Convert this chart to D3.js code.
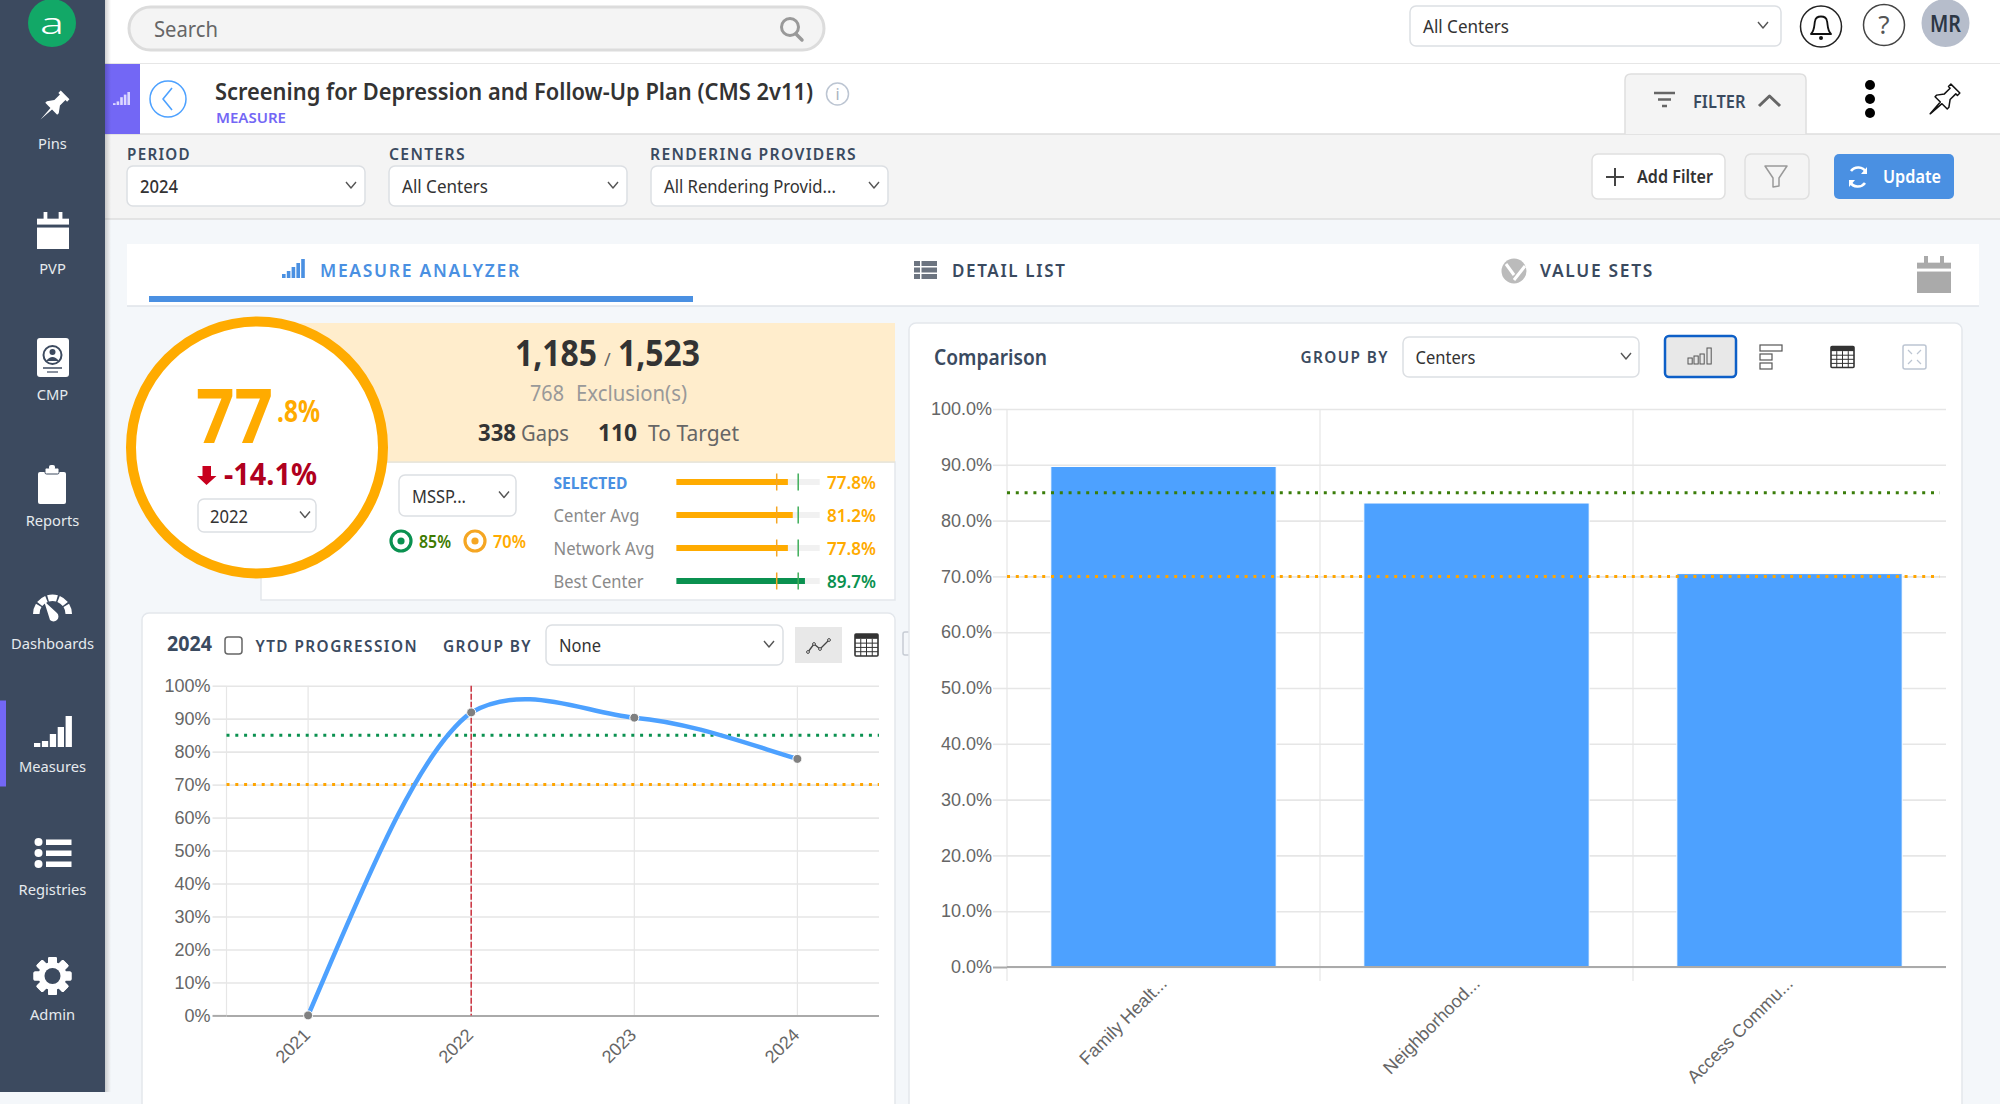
<!DOCTYPE html>
<html><head><meta charset="utf-8">
<script src="https://cdn.jsdelivr.net/npm/d3@7/dist/d3.min.js"></script>
<style>
html,body{margin:0;padding:0;background:#f4f7fa;overflow:hidden}
svg{display:block}
text{font-family:"Noto Sans",sans-serif}
.chart text{font-family:"Liberation Sans",Arial,sans-serif}
</style></head><body>
<svg id="app" width="2000" height="1104" viewBox="0 0 2000 1104"></svg>
<script>
// ---------- data ----------
const trendYears = ["2021","2022","2023","2024"];
const trendRates = [0,91.9,90.3,77.8];
const trendTicks = [0,10,20,30,40,50,60,70,80,90,100];
const selectedYear = "2022";
const centerNames = ["Family Healt...","Neighborhood...","Access Commu..."];
const centerRates = [89.7,83.15,70.5];
const comparisonTicks = [0,10,20,30,40,50,60,70,80,90,100];
const targetHigh = 85;
const targetLow = 70;
const benchLabels = ["SELECTED","Center Avg","Network Avg","Best Center"];
const benchValues = [77.8,81.2,77.8,89.7];
const navLabels = ["Pins","PVP","CMP","Reports","Dashboards","Measures","Registries","Admin"];

const C = {blue:"#4da1ff",orange:"#ffab00",green:"#0a9150",dark:"#3a4a5f",side:"#3c4a5f",purple:"#7367f5",grid:"#e6e6e6",axis:"#666"};
const svg = d3.select("#app");

function txt(g,x,y,s,o={}){
  const t=g.append("text").attr("x",x).attr("y",y).text(s)
    .attr("font-size",o.size||16).attr("font-weight",o.weight||400).attr("fill",o.fill||"#333")
    .attr("text-anchor",o.anchor||"start");
  if(o.ls)t.attr("letter-spacing",o.ls);
  if(o.w)t.attr("textLength",o.w).attr("lengthAdjust","spacingAndGlyphs");
  return t;
}
function box(g,x,y,w,h,o={}){
  return g.append("rect").attr("x",x).attr("y",y).attr("width",w).attr("height",h)
    .attr("rx",o.r||0).attr("fill",o.fill||"#fff").attr("stroke",o.stroke||"none").attr("stroke-width",o.sw||1);
}
function hline(g,x1,x2,y,c,w){g.append("line").attr("x1",x1).attr("x2",x2).attr("y1",y).attr("y2",y).attr("stroke",c||"#ddd").attr("stroke-width",w||1.5);}
function path(g,d,o={}){return g.append("path").attr("d",d).attr("fill",o.fill||"none").attr("stroke",o.stroke||"none").attr("stroke-width",o.sw||1).attr("stroke-linecap",o.cap||"butt").attr("stroke-linejoin","round");}
function chev(g,cx,cy,w,h,c,sw){path(g,`M${cx-w/2},${cy-h/2}L${cx},${cy+h/2}L${cx+w/2},${cy-h/2}`,{stroke:c||"#555",sw:sw||1.4});}
function select(g,x,y,w,h,label,o={}){
  box(g,x,y,w,h,{fill:"#fff",stroke:"#dcdfe3",sw:1.5,r:6});
  txt(g,x+(o.pad||13),y+h/2+7,label,{size:o.size||18,weight:o.weight||400,fill:"#333",w:o.w});
  chev(g,x+w-(o.chev||14),y+h/2-1,10,6);
}
const PIN="M-5.5,-14H5.5V-11H3.5V-4L7.5,1.5V3.5H1L0,17L-1,3.5H-7.5V1.5L-3.5,-4V-11H-5.5Z";

// ---------- page frame ----------
box(svg,0,0,2000,1104,{fill:"#f4f7fa"});
box(svg,105,0,1895,64,{fill:"#fff"});
hline(svg,105,2000,64,"#dedede");
box(svg,105,64,1895,70,{fill:"#fff"});
box(svg,105,134,1895,85,{fill:"#f4f4f4"});
hline(svg,105,2000,134,"#dedede");
hline(svg,105,2000,219,"#dedede");

// ---------- top bar ----------
box(svg,129,7,695,43,{fill:"#f4f4f4",stroke:"#dcdcdc",sw:3,r:21.5});
txt(svg,154,37,"Search",{size:21,fill:"#666",w:64});
svg.append("circle").attr("cx",790).attr("cy",27).attr("r",8.5).attr("fill","none").attr("stroke","#999").attr("stroke-width",3);
path(svg,"M796,34L802,40",{stroke:"#999",sw:3.5,cap:"round"});
select(svg,1410,6,371,40,"All Centers",{chev:18,w:86});
svg.append("circle").attr("cx",1821).attr("cy",26.5).attr("r",20.5).attr("fill","#fff").attr("stroke","#222").attr("stroke-width",1.5);
path(svg,"M1811,34C1815,30 1814,25 1815,21C1816,15 1826,15 1827,21C1828,25 1827,30 1831,34Z",{stroke:"#111",sw:1.8});
svg.append("circle").attr("cx",1821).attr("cy",38).attr("r",2).attr("fill","#111");
svg.append("circle").attr("cx",1884).attr("cy",25).attr("r",20.5).attr("fill","#fff").attr("stroke","#444").attr("stroke-width",1.5);
txt(svg,1884,34,"?",{size:26,fill:"#555",anchor:"middle"});
svg.append("circle").attr("cx",1945.5).attr("cy",23).attr("r",24).attr("fill","#b6bdcb");
txt(svg,1945.5,32,"MR",{size:23,weight:600,fill:"#2c3745",anchor:"middle",w:31});

// ---------- title row ----------
box(svg,105,64,35,70,{fill:C.purple});
[0,1,2,3,4].forEach(i=>box(svg,113+i*3.6,105-(i+1)*(i<2?1.8:2.6),2.6,(i+1)*(i<2?1.8:2.6),{fill:"#dcd8ff"}));
svg.append("circle").attr("cx",168).attr("cy",99).attr("r",18).attr("fill","#fff").attr("stroke","#4da1ff").attr("stroke-width",1.5);
path(svg,"M172,88L163,99L172,110",{stroke:"#4da1ff",sw:1.6});
txt(svg,215,100,"Screening for Depression and Follow-Up Plan (CMS 2v11)",{size:24,weight:600,fill:"#333",w:598});
txt(svg,216,123,"MEASURE",{size:15,weight:600,fill:C.purple,w:70});
svg.append("circle").attr("cx",837.5).attr("cy",94).attr("r",11).attr("fill","#fff").attr("stroke","#bcc5d2").attr("stroke-width",1.5);
txt(svg,837.5,100,"i",{size:16,fill:"#aab3c0",anchor:"middle"});
// filter tab
path(svg,"M1625,134V80Q1625,74 1631,74H1800Q1806,74 1806,80V134",{fill:"#f4f4f4",stroke:"#dedede",sw:1.5});
hline(svg,1654,1675,93,"#666",2.5);hline(svg,1658,1671,99.5,"#666",2.5);hline(svg,1662,1667,106,"#666",2.5);
txt(svg,1693,108,"FILTER",{size:18,weight:600,fill:C.dark,w:52.5});
path(svg,"M1759,106L1769.5,96L1780,106",{stroke:"#666",sw:3});
[85,99,113].forEach(y=>svg.append("circle").attr("cx",1870).attr("cy",y).attr("r",5).attr("fill","#000"));
path(svg,PIN,{fill:"#fff",stroke:"#111",sw:1.3}).attr("transform","translate(1944,100) rotate(45) scale(1.15)");

// ---------- filter row ----------
txt(svg,127,160,"PERIOD",{size:16.5,weight:600,fill:C.dark,ls:1.4,w:64});
txt(svg,389,160,"CENTERS",{size:16.5,weight:600,fill:C.dark,ls:1.4,w:77});
txt(svg,650,160,"RENDERING PROVIDERS",{size:16.5,weight:600,fill:C.dark,ls:1.4,w:207});
select(svg,127,166,238,40,"2024",{weight:500,w:38});
select(svg,389,166,238,40,"All Centers",{w:86});
select(svg,651,166,237,40,"All Rendering Provid...",{w:172});
box(svg,1592,154,133,45,{fill:"#fff",stroke:"#dfdfdf",sw:1.5,r:6});
path(svg,"M1615,168V186M1606,177H1624",{stroke:"#444",sw:2});
txt(svg,1637,183,"Add Filter",{size:18,weight:600,fill:"#333",w:76});
box(svg,1745,154,64,45,{fill:"#f4f4f4",stroke:"#dfdfdf",sw:1.5,r:6});
path(svg,"M1765,166H1787L1779,178V186L1773,187V178Z",{stroke:"#999",sw:1.5});
box(svg,1834,154,120,45,{fill:"#4a90e2",r:5});
path(svg,"M1851,171A9,9 0 0 1 1866,172M1865,183A9,9 0 0 1 1850,182",{stroke:"#fff",sw:2.6});
path(svg,"M1867,167V174H1861ZM1849,187V180H1855Z",{fill:"#fff"});
txt(svg,1883,183,"Update",{size:18,weight:600,fill:"#fff",w:58});

// ---------- tabs ----------
box(svg,127,244,1852,62,{fill:"#fff"});
hline(svg,127,1979,306,"#dfe3e8");
box(svg,149,296,544,6,{fill:"#4a90e2"});
[0,1,2,3,4].forEach(i=>box(svg,282+i*4.8,278-[4,7,11,15,19][i],3.6,[4,7,11,15,19][i],{fill:"#4a90e2"}));
txt(svg,320,277,"MEASURE ANALYZER",{size:18.5,weight:600,fill:"#4a90e2",ls:1.8,w:201});
[0,1,2].forEach(i=>{box(svg,914,261+i*6.5,6,5,{fill:"#6c7480"});box(svg,921.5,261+i*6.5,15.5,5,{fill:"#6c7480"});});
txt(svg,952,277,"DETAIL LIST",{size:18.5,weight:600,fill:C.dark,ls:1.8,w:114.5});
svg.append("circle").attr("cx",1514).attr("cy",271).attr("r",12.5).attr("fill","#bbb");
path(svg,"M1506,264L1514,275M1514,280L1525,266",{stroke:"#fff",sw:3});
txt(svg,1540,277,"VALUE SETS",{size:18.5,weight:600,fill:C.dark,ls:1.8,w:114});
function calendar(g,x,y,w,h,c){
  const u=w/34;
  box(g,x,y+h*.42,w,h*.58,{fill:c});
  box(g,x,y+h*.18,w,h*.16,{fill:c});
  box(g,x+7*u,y,4*u,h*.2,{fill:c});box(g,x+23*u,y,4*u,h*.2,{fill:c});
}
calendar(svg,1917,256,34,37,"#aaa");

// ---------- summary panel ----------
const sum=svg.append("g");
box(sum,261,462,634,138,{fill:"#fff",stroke:"#e3e7ec",sw:1.5});
box(sum,300,323,595,139,{fill:"#ffedcc"});
hline(sum,261,895,462,"#e9e4d8");
sum.append("circle").attr("cx",257).attr("cy",447.5).attr("r",126).attr("fill","#fff").attr("stroke",C.orange).attr("stroke-width",10);
txt(sum,196,443,"77",{size:76,weight:700,fill:C.orange,w:77});
txt(sum,277,422,".8%",{size:30,weight:700,fill:C.orange,w:43});
path(sum,"M202.5,466H211V476H216.5L206.5,485L197,476H202.5Z",{fill:"#c8001e"});
txt(sum,224,485,"-14.1%",{size:30,weight:700,fill:"#b0001e",w:93});
select(sum,198,499,118,33,"2022",{pad:12,chev:11,w:38});
txt(sum,515,366,"1,185",{size:35,weight:700,fill:"#333",w:82});
txt(sum,604,366,"/",{size:18,fill:"#666"});
txt(sum,618,366,"1,523",{size:35,weight:700,fill:"#333",w:82});
txt(sum,530,401,"768",{size:22,fill:"#999",w:34});
txt(sum,576,401,"Exclusion(s)",{size:22,fill:"#999",w:111});
txt(sum,478,441,"338",{size:24,weight:700,fill:"#333",w:38});
txt(sum,521,441,"Gaps",{size:22,fill:"#666",w:48});
txt(sum,598,441,"110",{size:24,weight:700,fill:"#333",w:39});
txt(sum,648,441,"To Target",{size:22,fill:"#666",w:91});
select(sum,399,475,117,41,"MSSP...",{pad:13,chev:12,w:54});
function target(g,cx,cy,c){
  g.append("circle").attr("cx",cx).attr("cy",cy).attr("r",10).attr("fill","#fff").attr("stroke",c).attr("stroke-width",3.2);
  g.append("circle").attr("cx",cx).attr("cy",cy).attr("r",3.6).attr("fill",c);
}
target(sum,401,541,C.green);
txt(sum,419,548,"85%",{size:18,weight:600,fill:"#3d7a00",w:32});
target(sum,475,541,"#f5a623");
txt(sum,493,548,"70%",{size:18,weight:600,fill:C.orange,w:33});

// bullet rows
const bulletX=d3.scaleLinear().domain([0,100]).range([676.4,819.7]);
const rowY=d3.scalePoint().domain(benchLabels).range([482,581]);
const colorOf=v=>v>=targetHigh?"#0a9150":C.orange;
const labelFit=[74,86,101,90];
const rows=sum.selectAll("g.row").data(benchLabels.map((l,i)=>({l,v:benchValues[i],i}))).join("g").attr("class","row");
rows.append("text").attr("x",553.5).attr("y",d=>rowY(d.l)+7).text(d=>d.l)
  .attr("textLength",d=>labelFit[d.i]).attr("lengthAdjust","spacingAndGlyphs")
  .attr("font-size",d=>d.i===0?16:18).attr("font-weight",d=>d.i===0?700:400).attr("fill",d=>d.i===0?"#4a90e2":"#8a8a8a");
rows.append("rect").attr("x",bulletX(0)).attr("y",d=>rowY(d.l)-3).attr("width",bulletX(100)-bulletX(0)).attr("height",6).attr("fill","#f1f1f1");
rows.append("rect").attr("x",bulletX(0)).attr("y",d=>rowY(d.l)-3).attr("width",d=>bulletX(d.v)-bulletX(0)).attr("height",6).attr("fill",d=>colorOf(d.v));
rows.append("line").attr("x1",bulletX(targetLow)).attr("x2",bulletX(targetLow)).attr("y1",d=>rowY(d.l)-8.5).attr("y2",d=>rowY(d.l)+8.5).attr("stroke","#f5a623").attr("stroke-width",1.5);
rows.append("line").attr("x1",bulletX(targetHigh)).attr("x2",bulletX(targetHigh)).attr("y1",d=>rowY(d.l)-8.5).attr("y2",d=>rowY(d.l)+8.5).attr("stroke","#3fae5a").attr("stroke-width",1.5);
rows.append("text").attr("x",876).attr("y",d=>rowY(d.l)+7).attr("text-anchor","end").text(d=>d.v.toFixed(1)+"%")
  .attr("textLength",49).attr("lengthAdjust","spacingAndGlyphs")
  .attr("font-size",18).attr("font-weight",600).attr("fill",d=>colorOf(d.v));

// ---------- shared icon helpers ----------
function tableIcon(g,x,y,w,h){
  box(g,x,y,w,h,{fill:"#fff",stroke:"#333",sw:1.6,r:1});
  box(g,x,y,w,h*.22,{fill:"#333"});
  for(let i=1;i<4;i++)g.append("line").attr("x1",x+w*i/4).attr("x2",x+w*i/4).attr("y1",y+h*.22).attr("y2",y+h).attr("stroke","#333");
  for(let i=1;i<4;i++)g.append("line").attr("x1",x).attr("x2",x+w).attr("y1",y+h*.22+h*.78*i/4).attr("y2",y+h*.22+h*.78*i/4).attr("stroke","#333");
}

// ---------- trend panel ----------
const tp=svg.append("g");
box(tp,142,613,753,520,{fill:"#fff",stroke:"#e3e7ec",sw:1.5,r:7});
txt(tp,167,651,trendYears[3],{size:21,weight:700,fill:C.dark,w:45});
box(tp,225,637,17,17,{fill:"#fff",stroke:"#666",sw:1.5,r:3});
txt(tp,255.5,652,"YTD PROGRESSION",{size:16,weight:600,fill:C.dark,ls:1.5,w:162.5});
txt(tp,443,652,"GROUP BY",{size:16,weight:600,fill:C.dark,ls:1.5,w:89});
select(tp,546,625,237,40,"None",{pad:13,chev:14,w:42});
box(tp,795,627,47,36,{fill:"#e8e8e8"});
path(tp,"M808,652L814,644L820,649L829,640",{stroke:"#444",sw:1.3});
[[808,652],[814,644],[820,649],[829,640]].forEach(p=>tp.append("circle").attr("cx",p[0]).attr("cy",p[1]).attr("r",1.4).attr("fill","#fff").attr("stroke","#444"));
tableIcon(tp,855,634,23,22);
box(tp,903,632,8,23,{fill:"#f4f7fa",stroke:"#c6ccd4",sw:1.5,r:2});

const chartL=svg.append("g").attr("class","chart");
const xT=d3.scalePoint().domain(trendYears).range([226.5+81.6,879-81.6]);
const yT=d3.scaleLinear().domain([0,100]).range([1015.4,685.7]);
const pctT=d=>d+"%";
// vertical grid
chartL.append("line").attr("x1",226.5).attr("x2",226.5).attr("y1",yT(100)).attr("y2",yT(0)).attr("stroke",C.grid).attr("stroke-width",1.2);
chartL.selectAll("line.vg").data(trendYears).join("line").attr("class","vg")
  .attr("x1",d=>xT(d)).attr("x2",d=>xT(d)).attr("y1",yT(100)).attr("y2",yT(0)).attr("stroke",C.grid).attr("stroke-width",1.2);
// horizontal grid + tick labels
const axisT=d3.axisLeft(yT).tickValues(trendTicks).tickFormat(pctT).tickSize(14).tickPadding(2);
const gyT=chartL.append("g").attr("transform","translate(226.5,0)").call(axisT);
gyT.select(".domain").remove();
gyT.selectAll("line").attr("stroke",C.grid).attr("stroke-width",1.6);
gyT.selectAll("text").attr("font-size",18).attr("fill",C.axis);
const gridT=d3.axisLeft(yT).tickValues(trendTicks).tickFormat("").tickSize(-(879-226.5));
const ggT=chartL.append("g").attr("transform","translate(226.5,0)").call(gridT);
ggT.select(".domain").remove();
ggT.selectAll("line").attr("stroke",d=>d===0?"#aaa":C.grid).attr("stroke-width",d=>d===0?2:1.6);
gyT.selectAll("line").filter(d=>d===0).attr("stroke","#aaa").attr("stroke-width",2);
// x labels
const gxT=chartL.append("g").attr("transform",`translate(0,${yT(0)})`).call(d3.axisBottom(xT).tickSize(0));
gxT.select(".domain").remove();
gxT.selectAll("text").attr("font-size",18).attr("fill",C.axis).attr("text-anchor","end")
  .attr("transform","translate(-5,13) rotate(-45)").attr("y",0).attr("x",0).attr("dy",".6em");
// targets
function dotted(g,x1,x2,y,c){g.append("line").attr("x1",x1).attr("x2",x2).attr("y1",y).attr("y2",y).attr("stroke",c).attr("stroke-width",3).attr("stroke-dasharray","3 5.8");}
dotted(chartL,226.5,879,yT(targetHigh),C.green);
dotted(chartL,226.5,879,yT(targetLow),"#ffa500");
// selected year marker
chartL.append("line").attr("x1",xT(selectedYear)).attr("x2",xT(selectedYear)).attr("y1",yT(100)).attr("y2",yT(0)).attr("stroke","#cc3340").attr("stroke-width",1.5).attr("stroke-dasharray","6 2");
// spline: custom curve, tangents derived from neighbouring data points
function softSpline(ctx){
  let pts=[];
  return {
    lineStart(){pts=[];},
    point(x,y){pts.push([x,y]);},
    lineEnd(){
      const n=pts.length;
      const slope=i=>{
        if(i===0)return 1.25*(pts[1][1]-pts[0][1])/(pts[1][0]-pts[0][0]);
        if(i===n-1)return 1.2*(pts[n-1][1]-pts[n-2][1])/(pts[n-1][0]-pts[n-2][0]);
        return (pts[i+1][1]-pts[i-1][1])/(pts[i+1][0]-pts[i-1][0]);
      };
      ctx.moveTo(pts[0][0],pts[0][1]);
      for(let i=0;i<n-1;i++){
        const h=pts[i+1][0]-pts[i][0];
        const a=i===0?1:0.6, b=i===n-2?1:0.8;
        ctx.bezierCurveTo(pts[i][0]+h/3,pts[i][1]+slope(i)*a*h/3,pts[i+1][0]-h/3,pts[i+1][1]-slope(i+1)*b*h/3,pts[i+1][0],pts[i+1][1]);
      }
    }
  };
}
const lineGen=d3.line().x(d=>xT(d.y)).y(d=>yT(d.v)).curve(softSpline);
const trendData=trendYears.map((y,i)=>({y,v:trendRates[i]}));
chartL.append("path").datum(trendData).attr("d",lineGen).attr("fill","none").attr("stroke",C.blue).attr("stroke-width",4.5).attr("stroke-linecap","round");
chartL.selectAll("circle.pt").data(trendData).join("circle").attr("class","pt")
  .attr("cx",d=>xT(d.y)).attr("cy",d=>yT(d.v)).attr("r",4.5).attr("fill","#808080").attr("stroke","#fff").attr("stroke-width",1);

// ---------- comparison panel ----------
const cp=svg.append("g");
box(cp,909,323,1053,810,{fill:"#fff",stroke:"#e3e7ec",sw:1.5,r:7});
txt(cp,934,365,"Comparison",{size:22,weight:600,fill:C.dark,w:113});
txt(cp,1300.5,363,"GROUP BY",{size:16,weight:600,fill:C.dark,ls:1.5,w:88.5});
select(cp,1403,337,236,40,"Centers",{pad:12.5,chev:13,w:60});
box(cp,1665,336,71,41,{fill:"#e8e8e8",stroke:"#0d5fc7",sw:2.5,r:4});
[[1688,6],[1694,8],[1700,10],[1707,16]].forEach(p=>box(cp,p[0],364-p[1],4.2,p[1],{fill:"#e8e8e8",stroke:"#555",sw:1}));
box(cp,1760,345,22,6,{fill:"#fff",stroke:"#555",sw:1.2});box(cp,1760,354,12,6,{fill:"#fff",stroke:"#555",sw:1.2});box(cp,1760,363,12,6,{fill:"#fff",stroke:"#555",sw:1.2});
tableIcon(cp,1831,346.5,23,21);
box(cp,1903,345,23,24,{fill:"#fff",stroke:"#bcc5d2",sw:1.5,r:2});
path(cp,"M1908,350L1912,354M1921,350L1917,354M1908,364L1912,360M1921,364L1917,360",{stroke:"#bcc5d2",sw:1.2});

const chartR=svg.append("g").attr("class","chart");
const xB=d3.scaleBand().domain(centerNames).range([1007,1946]).paddingInner(0.28).paddingOuter(0.14);
const yB=d3.scaleLinear().domain([0,100]).range([967,409]);
chartR.selectAll("line.vg").data(d3.range(centerNames.length)).join("line").attr("class","vg")
  .attr("x1",i=>1007+i*xB.step()).attr("x2",i=>1007+i*xB.step()).attr("y1",yB(100)).attr("y2",981).attr("stroke",C.grid).attr("stroke-width",1.2);
const axisB=d3.axisLeft(yB).tickValues(comparisonTicks).tickFormat(d=>d.toFixed(1)+"%").tickSize(14).tickPadding(1);
const gyB=chartR.append("g").attr("transform","translate(1007,0)").call(axisB);
gyB.select(".domain").remove();
gyB.selectAll("line").attr("stroke",d=>d===0?"#aaa":C.grid).attr("stroke-width",d=>d===0?2:1.6);
gyB.selectAll("text").attr("font-size",18).attr("fill",C.axis);
const ggB=chartR.append("g").attr("transform","translate(1007,0)").call(d3.axisLeft(yB).tickValues(comparisonTicks).tickFormat("").tickSize(-939));
ggB.select(".domain").remove();
ggB.selectAll("line").attr("stroke",C.grid).attr("stroke-width",1.6);
chartR.selectAll("rect.bar").data(centerNames.map((n,i)=>({n,v:centerRates[i]}))).join("rect").attr("class","bar")
  .attr("x",d=>xB(d.n)).attr("width",xB.bandwidth()).attr("y",d=>yB(d.v)).attr("height",d=>yB(0)-yB(d.v))
  .attr("fill",C.blue).attr("stroke","#fff").attr("stroke-width",1);
chartR.append("line").attr("x1",1007).attr("x2",1946).attr("y1",yB(0)).attr("y2",yB(0)).attr("stroke","#aaa").attr("stroke-width",2);
dotted(chartR,1007,1940,yB(targetHigh),"#3a7d0a");
dotted(chartR,1007,1940,yB(targetLow),"#ffa500");
const gxB=chartR.append("g").attr("transform",`translate(0,${yB(0)})`).call(d3.axisBottom(xB).tickSize(0));
gxB.select(".domain").remove();
gxB.selectAll("text").attr("font-size",18).attr("fill",C.axis).attr("text-anchor","end")
  .attr("transform","translate(-3,10) rotate(-45)").attr("y",0).attr("x",0).attr("dy",".6em");

// ---------- sidebar ----------
const side=svg.append("g");
const sg=svg.append("defs").append("linearGradient").attr("id","sh");
sg.append("stop").attr("offset",0).attr("stop-color","#000").attr("stop-opacity",.18);
sg.append("stop").attr("offset",1).attr("stop-color","#000").attr("stop-opacity",0);
box(side,105,0,6,1092,{fill:"url(#sh)"});
box(side,0,0,105,1092,{fill:C.side});
side.append("circle").attr("cx",52).attr("cy",23).attr("r",24).attr("fill","#12a867");
side.append("text").attr("x",52).attr("y",34).attr("text-anchor","middle").attr("font-size",30).attr("font-weight",300).attr("fill","#fff")
  .attr("textLength",24).attr("lengthAdjust","spacingAndGlyphs").text("a");
const navY=[149,274,400,526,648.5,772,895,1020];
navLabels.forEach((l,i)=>txt(side,52.5,navY[i],l,{size:14.7,fill:"#e6eaee",anchor:"middle"}));
// pin
path(side,PIN,{fill:"#fff"}).attr("transform","translate(54,106) rotate(45) scale(1.12)");
calendar(side,37,212,32,37,"#fff");
// CMP
box(side,37,338,32,39,{fill:"#fff",r:3});
side.append("circle").attr("cx",52.5).attr("cy",355).attr("r",9).attr("fill","#fff").attr("stroke",C.side).attr("stroke-width",2);
side.append("circle").attr("cx",52.5).attr("cy",352).attr("r",3).attr("fill",C.side);
path(side,"M46,361Q52.5,353 59,361Z",{fill:C.side});
hline(side,43,62,368,C.side,1.5);hline(side,47,58,372,C.side,1.2);
// reports
box(side,38,472,28,32,{fill:"#fff",r:2});
box(side,45,468,14,6,{fill:"#fff",stroke:C.side,sw:1,r:1.5});box(side,49,465,6,5,{fill:"#fff",r:2});
// dashboards gauge
const arcGen=d3.arc().innerRadius(13).outerRadius(19.5);
[[-90,-58],[-52,-22],[-16,16],[22,52],[58,90]].forEach(a=>{
  path(side,arcGen({startAngle:a[0]*Math.PI/180,endAngle:a[1]*Math.PI/180}),{fill:"#fff"}).attr("transform","translate(52.5,614)");
});
path(side,"M44,601L57,613A4.5,4.5 0 0 1 50,620Z",{fill:"#fff"});
// measures
[0,1,2,3,4].forEach(i=>box(side,34+i*7.9,747-[4,6,13,20,31][i],6.3,[4,6,13,20,31][i],{fill:"#fff"}));
box(side,0,700.5,6,86,{fill:C.purple});
// registries
[842,853,864].forEach(y=>{side.append("circle").attr("cx",38.5).attr("cy",y).attr("r",4).attr("fill","#fff");box(side,46,y-2.5,25.5,5.5,{fill:"#fff"});});
// gear
for(let i=0;i<8;i++){side.append("rect").attr("x",48).attr("y",957).attr("width",9).attr("height",38).attr("rx",1.5).attr("fill","#fff").attr("transform",`rotate(${i*45} 52.5 976)`);}
side.append("circle").attr("cx",52.5).attr("cy",976).attr("r",14).attr("fill","#fff");
side.append("circle").attr("cx",52.5).attr("cy",976).attr("r",8).attr("fill",C.side);
</script>
</body></html>
